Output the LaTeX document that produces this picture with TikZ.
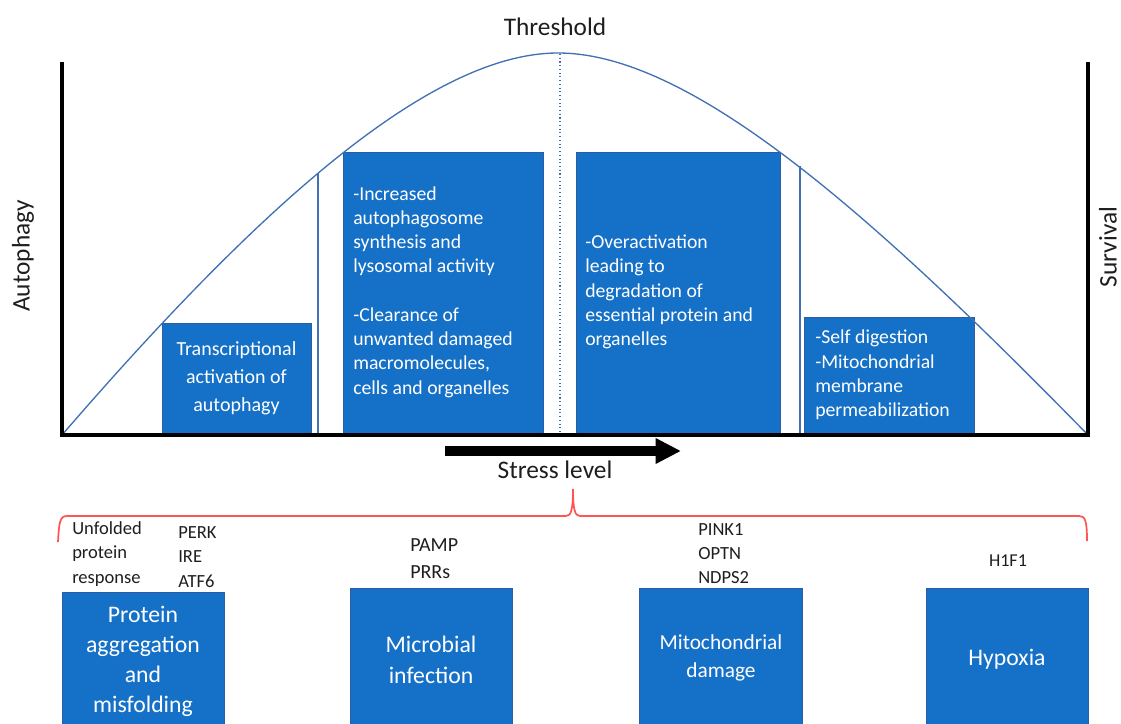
\documentclass[tikz,border=0pt]{standalone}
\usepackage{fontspec}
\setmainfont{Carlito}
\usetikzlibrary{arrows.meta,fit}
\definecolor{boxblue}{RGB}{21,112,199}
\definecolor{boxedge}{RGB}{46,92,160}
\definecolor{curveblue}{RGB}{65,113,180}
\definecolor{bracered}{RGB}{255,85,85}
\definecolor{txtgray}{RGB}{30,30,30}
\tikzset{
  boxfill/.style={draw=boxedge, fill=boxblue, line width=0.6pt, inner sep=0pt},
  wtext/.style={text=white, inner sep=0pt},
  ktext/.style={text=txtgray, inner sep=0pt},
  axisline/.style={line width=3pt, black},
  thinblue/.style={draw=curveblue, line width=1pt},
}
\begin{document}
\begin{tikzpicture}[x=0.75pt,y=-0.75pt]
\useasboundingbox (0,0) rectangle (1121,724);
\clip (0,0) rectangle (1121,724);

% boxes upper
\node[boxfill, fit={(162,323) (311,435)}] (b1) {};
\node[boxfill, fit={(343,152) (543,435)}] (b2) {};
\node[boxfill, fit={(576,152) (780,435)}] (b3) {};
\node[boxfill, fit={(804,317) (974,435)}] (b4) {};

% curve
\coordinate (o) at (62,435);
\coordinate (peak) at (558,53);
\coordinate (r) at (1088,435);
\draw[thinblue] (o) .. controls (258,208) and (430,53) .. (peak)
  .. controls (690,53) and (870,212) .. (r);

% thin vertical lines and dotted threshold line
\coordinate (v1t) at (318,173);
\coordinate (v1b) at (318,435);
\coordinate (v2t) at (800,166);
\coordinate (v2b) at (800,435);
\draw[draw=curveblue, line width=1.1pt] (v1t) -- (v1b);
\draw[draw=curveblue, line width=1.1pt] (v2t) -- (v2b);
\coordinate (tht) at (560,54);
\coordinate (thb) at (560,435);
\draw[draw=curveblue, line width=0.8pt, dotted] (tht) -- (thb);

% axes
\coordinate (ltop) at (62,62);
\coordinate (rtop) at (1088,62);
\draw[axisline] (ltop) -- (o) -- (r) -- (rtop);

% stress arrow
\coordinate (as) at (445,451);
\coordinate (ae) at (681,451);
\draw[line width=7pt, -{Triangle[length=19pt,width=18pt]}] (as) -- (ae);

% labels
\node[ktext, font=\fontsize{19}{23}\selectfont] (thr) at (555,27) {Threshold};
\node[ktext, font=\fontsize{19}{23}\selectfont, rotate=90] (aut) at (23,256) {Autophagy};
\node[ktext, font=\fontsize{19}{23}\selectfont, rotate=90] (sur) at (1108,247) {Survival};
\node[ktext, font=\fontsize{19}{23}\selectfont] (str) at (555,470) {Stress level};

% upper box texts
\node[wtext, align=center, font=\fontsize{15}{21}\selectfont] (t1) at (236.5,378) {Transcriptional\\activation of\\autophagy};
\node[wtext, align=left, anchor=west, font=\fontsize{14.8}{18.2}\selectfont] (t2) at (353,292) {-Increased\\autophagosome\\synthesis and\\lysosomal activity\\[18.2pt]-Clearance of\\unwanted damaged\\macromolecules,\\cells and organelles};
\node[wtext, align=left, anchor=west, font=\fontsize{14.8}{18.2}\selectfont] (t3) at (585,292) {-Overactivation\\leading to\\degradation of\\essential protein and\\organelles};
\node[wtext, align=left, anchor=west, font=\fontsize{14.8}{18.2}\selectfont] (t4) at (815,375) {-Self digestion\\-Mitochondrial\\membrane\\permeabilization};

% brace
\coordinate (brl) at (58,542);
\coordinate (brr) at (1087,541);
\draw[draw=bracered, line width=1.3pt] (brl) .. controls (59,522) and (60,516) .. (67,516) -- (566,516) .. controls (571,516) and (573,510) .. (573,489) .. controls (573,510) and (575,516) .. (580,516) -- (1079,516) .. controls (1085,516) and (1087,520) .. (brr);

% lower boxes
\node[boxfill, fit={(62,592) (224,730)}] (ba) {};
\node[boxfill, fit={(350,588) (512,730)}] (bb) {};
\node[boxfill, fit={(639,588) (802,730)}] (bc) {};
\node[boxfill, fit={(926,588) (1088,730)}] (bd) {};

\node[wtext, align=center, font=\fontsize{17.8}{22.5}\selectfont] (ta) at (143,661) {Protein\\aggregation\\and\\misfolding};
\node[wtext, align=center, font=\fontsize{17.8}{23.2}\selectfont] (tb) at (431,660) {Microbial\\infection};
\node[wtext, align=center, font=\fontsize{16}{21}\selectfont] (tc) at (721,658) {Mitochondrial\\damage};
\node[wtext, align=center, font=\fontsize{17.8}{22}\selectfont] (td) at (1007,659) {Hypoxia};

% small labels
\node[ktext, align=left, anchor=west, font=\fontsize{13.9}{18.4}\selectfont] (upr) at (72,554) {Unfolded\\protein\\response};
\node[ktext, align=left, anchor=west, font=\fontsize{13.9}{18.4}\selectfont] (perk) at (178,557) {PERK\\IRE\\ATF6};
\node[ktext, align=left, anchor=west, font=\fontsize{15}{20.2}\selectfont] (pamp) at (410,559) {PAMP\\PRRs};
\node[ktext, align=left, anchor=west, font=\fontsize{13.9}{18}\selectfont] (pink) at (698,554) {PINK1\\OPTN\\NDPS2};
\node[ktext, font=\fontsize{13.6}{17}\selectfont] (hif) at (1008,561) {H1F1};
\end{tikzpicture}
\end{document}
